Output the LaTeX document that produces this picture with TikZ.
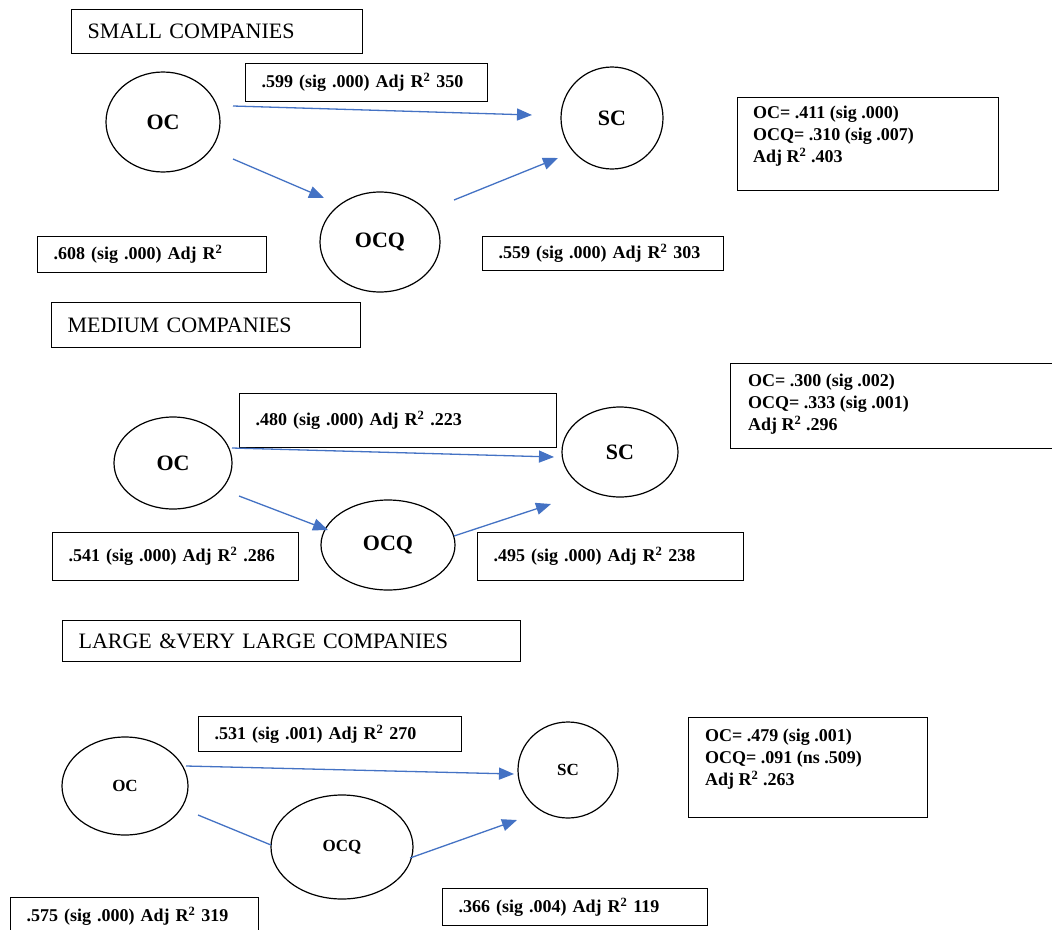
\documentclass[tikz,border=0pt]{standalone}
\usepackage{fontspec}
\setmainfont{Liberation Serif}
\usetikzlibrary{arrows.meta,shapes.geometric}
\definecolor{arrowblue}{RGB}{68,114,196}
\newcommand\titlefont{\fontsize{22}{26}\selectfont}
\newcommand\labfont{\bfseries\fontsize{18}{22}\selectfont}
\newcommand\bigvar{\bfseries\fontsize{22}{26}\selectfont}
\newcommand\smallvar{\bfseries\fontsize{17}{20}\selectfont}
\newcommand\Rsq{R\textsuperscript{2}}
\begin{document}
\begin{tikzpicture}[x=1pt,y=-1pt,
  frame/.style={draw, line width=1.2pt, anchor=north west, inner ysep=0pt, inner xsep=16pt, align=left},
  titlebox/.style={frame, font=\titlefont},
  labbox/.style={frame, font=\labfont},
  plain/.style={anchor=north west, inner sep=0pt, align=left, font=\labfont},
  var/.style={draw, ellipse, line width=1.2pt, inner sep=0pt},
  arr/.style={draw=arrowblue, line width=1.3pt, -{Triangle[length=15pt,width=12pt]}},
  ln/.style={draw=arrowblue, line width=1.3pt}]
\useasboundingbox (0,0) rectangle (1052,929);
\fill[white] (0,0) rectangle (1052,929);

% ---------------- SMALL COMPANIES ----------------
\node[titlebox, minimum height=44pt, text width=259pt] (t1) at (71,9) {SMALL COMPANIES};
\node[labbox, minimum height=38pt, text width=210pt] (a1) at (245,63) {.599 (sig .000) Adj \Rsq{} 350};
\node[var, minimum width=114pt, minimum height=100pt, font=\bigvar] (oc1) at (163,122) {OC};
\node[var, minimum width=102pt, minimum height=102pt, font=\bigvar] (sc1) at (612,118) {SC};
\node[var, minimum width=120pt, minimum height=100pt, font=\bigvar] (ocq1) at (380,242) {OCQ};
\node[frame, minimum width=261pt, minimum height=93pt] (r1) at (737,97) {};
\node[plain] (r1t) at (753,106) {OC= .411 (sig .000)\\OCQ= .310 (sig .007)\\Adj \Rsq{} .403};
\node[labbox, minimum height=36pt, text width=197pt] (b1) at (37,236) {.608 (sig .000) Adj \Rsq};
\node[labbox, minimum height=34pt, text width=209pt] (c1) at (482,236) {.559 (sig .000) Adj \Rsq{} 303};
\coordinate (p1s) at (233,106); \coordinate (p1e) at (532,115);
\coordinate (p2s) at (233,159); \coordinate (p2e) at (324,198);
\coordinate (p3s) at (454,200); \coordinate (p3e) at (558,158);
\draw[arr] (p1s) -- (p1e);
\draw[arr] (p2s) -- (p2e);
\draw[arr] (p3s) -- (p3e);

% ---------------- MEDIUM COMPANIES ----------------
\node[titlebox, minimum height=45pt, text width=277pt] (t2) at (51,302) {MEDIUM COMPANIES};
\node[labbox, minimum height=54pt, text width=285pt] (a2) at (239,393) {.480 (sig .000) Adj \Rsq{} .223\\[14pt]};
\node[var, minimum width=118pt, minimum height=92pt, font=\bigvar] (oc2) at (173,463) {OC};
\node[var, minimum width=116pt, minimum height=90pt, font=\bigvar] (sc2) at (620,452) {SC};
\node[var, minimum width=134pt, minimum height=90pt, font=\bigvar] (ocq2) at (388,545) {OCQ};
\node[frame, minimum width=330pt, minimum height=85pt] (r2) at (730,363) {};
\node[plain] (r2t) at (748,374) {OC= .300 (sig .002)\\OCQ= .333 (sig .001)\\Adj \Rsq{} .296};
\node[labbox, minimum height=48pt, text width=214pt] (b2) at (52,532) {.541 (sig .000) Adj \Rsq{} .286};
\node[labbox, minimum height=48pt, text width=234pt] (c2) at (477,532) {.495 (sig .000) Adj \Rsq{} 238};
\coordinate (q1s) at (232,448); \coordinate (q1e) at (554,457);
\coordinate (q2s) at (239,496); \coordinate (q2e) at (328,530);
\coordinate (q3s) at (454,536); \coordinate (q3e) at (551,504);
\draw[arr] (q1s) -- (q1e);
\draw[arr] (q2s) -- (q2e);
\draw[arr] (q3s) -- (q3e);

% ---------------- LARGE & VERY LARGE COMPANIES ----------------
\node[titlebox, minimum height=41pt, text width=426pt] (t3) at (62,620) {LARGE \&VERY LARGE COMPANIES};
\node[labbox, minimum height=35pt, text width=231pt] (a3) at (198,716) {.531 (sig .001) Adj \Rsq{} 270};
\node[var, minimum width=126pt, minimum height=98pt, font=\smallvar] (oc3) at (125,786) {OC};
\node[var, minimum width=100pt, minimum height=96pt, font=\smallvar] (sc3) at (568,770) {SC};
\node[var, minimum width=142pt, minimum height=104pt, font=\smallvar] (ocq3) at (342,847) {OCQ};
\node[frame, minimum width=239pt, minimum height=100pt] (r3) at (688,717) {};
\node[plain] (r3t) at (705,729) {OC= .479 (sig .001)\\OCQ= .091 (ns .509)\\Adj \Rsq{} .263};
\node[labbox, minimum height=38pt, text width=216pt] (b3) at (10,897) {.575 (sig .000) Adj \Rsq{} 319};
\node[labbox, minimum height=37pt, text width=233pt] (c3) at (442,888) {.366 (sig .004) Adj \Rsq{} 119};
\coordinate (s1s) at (186,766); \coordinate (s1e) at (514,774);
\coordinate (s2s) at (198,815); \coordinate (s2e) at (271,845);
\coordinate (s3s) at (410,858); \coordinate (s3e) at (517,820);
\draw[arr] (s1s) -- (s1e);
\draw[ln] (s2s) -- (s2e);
\draw[arr] (s3s) -- (s3e);
\end{tikzpicture}
\end{document}
